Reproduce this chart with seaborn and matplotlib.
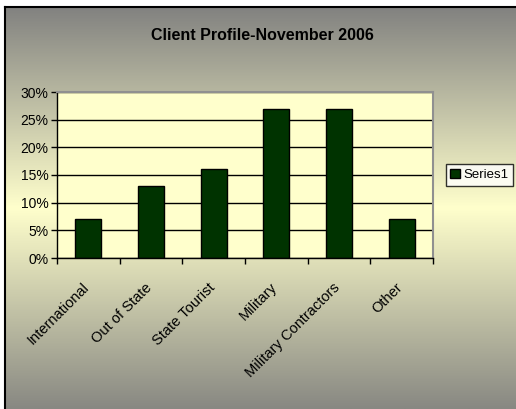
import matplotlib
matplotlib.use('Agg')
import matplotlib.pyplot as plt
import matplotlib.transforms as mtransforms
import numpy as np
import pandas as pd
import seaborn as sns
from matplotlib.colors import LinearSegmentedColormap
from matplotlib.patches import Patch
from matplotlib.ticker import FixedLocator, PercentFormatter

categories = ['International', 'Out of State', 'State Tourist', 'Military',
              'Military Contractors', 'Other']
share = [7, 13, 16, 27, 27, 7]
series_name = 'Series1'
title = 'Client Profile-November 2006'

W, H = 516, 409


def main():
    sns.set_style('white')
    plt.rcParams['font.family'] = ['Liberation Sans', 'DejaVu Sans']
    plt.rcParams['text.color'] = 'black'
    plt.rcParams['xtick.color'] = 'black'
    plt.rcParams['ytick.color'] = 'black'

    df = pd.DataFrame({'category': categories, 'share': share})

    fig = plt.figure(figsize=(W / 100, H / 100), dpi=100)
    fig.patch.set_facecolor('white')

    # chart area background: gray -> pale yellow -> gray
    bg = fig.add_axes([5 / W, 0, (W - 5) / W, (H - 7) / H])
    cmap = LinearSegmentedColormap.from_list(
        'bg', [(0.0, '#828280'), (0.5, '#ffffcc'), (1.0, '#888882')])
    grad = np.linspace(0, 1, 256).reshape(-1, 1)
    bg.imshow(grad, aspect='auto', cmap=cmap, extent=[0, 1, 0, 1], origin='upper')
    bg.set_xlim(0, 1)
    bg.set_ylim(0, 1)
    bg.set_xticks([])
    bg.set_yticks([])
    for side in ['right', 'bottom']:
        bg.spines[side].set_visible(False)
    for side in ['left', 'top']:
        bg.spines[side].set_color('black')
        bg.spines[side].set_linewidth(1.5)

    ax = fig.add_axes([57 / W, 1 - 258 / H, 376 / W, 166 / H])
    ax.set_facecolor('#ffffcc')
    sns.barplot(data=df, x='category', y='share', ax=ax, color='#003300',
                width=0.42, edgecolor='black', linewidth=1.0, saturation=1)

    ax.set_ylim(0, 30)
    ax.set_xlim(-0.5, len(categories) - 0.5)
    ax.set_yticks(range(0, 31, 5))
    ax.yaxis.set_major_formatter(PercentFormatter(decimals=0))
    ax.yaxis.grid(True, color='black', linewidth=1.0)
    ax.set_axisbelow(True)
    ax.set(xlabel=None, ylabel=None)

    ax.xaxis.set_minor_locator(FixedLocator(np.arange(-0.5, len(categories), 1)))
    ax.tick_params(axis='x', which='major', length=0, pad=16)
    ax.tick_params(axis='x', which='minor', length=4, width=1, color='black', bottom=True)
    ax.tick_params(axis='y', length=4, width=1, color='black', left=True, labelsize=10, pad=2)
    ax.set_xticks(range(len(categories)))
    ax.set_xticklabels(categories, rotation=45, ha='right', rotation_mode='anchor', fontsize=10.5)
    shift = mtransforms.ScaledTranslation(-6 / 100, 0, fig.dpi_scale_trans)
    for lbl in ax.get_xticklabels():
        lbl.set_transform(lbl.get_transform() + shift)

    for side in ['left', 'bottom']:
        ax.spines[side].set_color('black')
        ax.spines[side].set_linewidth(1.0)
    for side in ['top', 'right']:
        ax.spines[side].set_color('#909090')
        ax.spines[side].set_linewidth(1.5)

    fig.text(262 / W, 1 - 35 / H, title, ha='center', va='center',
             fontsize=11.5, fontweight='bold', color='black')

    handle = Patch(facecolor='#003300', edgecolor='black', label=series_name)
    leg = fig.legend(handles=[handle], loc='center', bbox_to_anchor=(479.5 / W, 1 - 175 / H),
                     frameon=True, fancybox=False, fontsize=9.5, handlelength=0.7,
                     handleheight=0.7, handletextpad=0.3, borderpad=0.35, borderaxespad=0)
    leg.get_frame().set_edgecolor('black')
    leg.get_frame().set_facecolor('white')
    leg.get_frame().set_linewidth(1.0)

    fig.savefig('out.png', dpi=100)


if __name__ == '__main__':
    main()
